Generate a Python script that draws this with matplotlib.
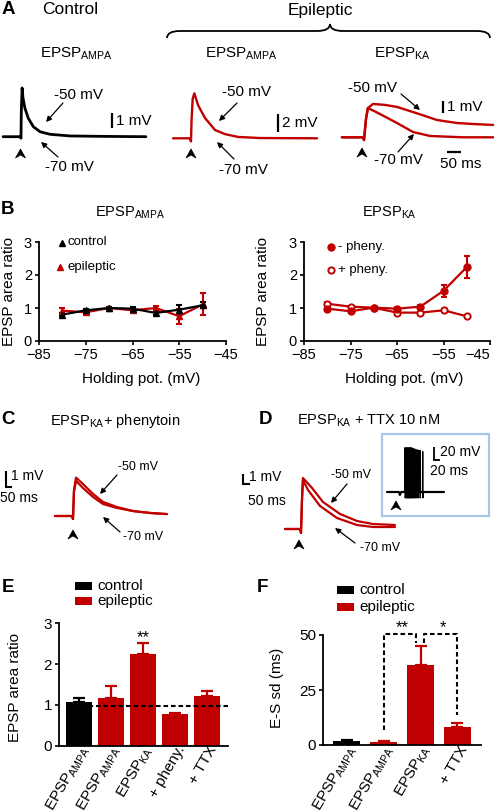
import matplotlib
matplotlib.use('Agg')
import matplotlib.pyplot as plt
import matplotlib.transforms as mtrans
from matplotlib.patches import Polygon, Rectangle, PathPatch
from matplotlib.path import Path
import numpy as np

plt.rcParams['font.family'] = ['Liberation Sans', 'DejaVu Sans']
plt.rcParams['mathtext.fontset'] = 'custom'
plt.rcParams['mathtext.rm'] = 'Liberation Sans'
plt.rcParams['mathtext.default'] = 'regular'

red = '#c00000'

# ---------------- data ----------------
# A: example traces, time in ms from the stimulus, voltage in mV from baseline
ctrl_t = [-64, -4, 0, 1, 4, 7, 14, 26, 44, 68, 104, 175, 300, 446]
ctrl_v = [0, 0, -0.1, 1.6, 3.25, 2.6, 1.9, 1.23, 0.67, 0.33, 0.16, 0.05, 0.02, 0]
epiA_t = [-64, -4, 0, 2, 6, 12, 25, 50, 86, 121, 168, 246, 450]
epiA_v = [0, 0, -0.35, 2.0, 4.4, 5.0, 3.7, 2.25, 0.92, 0.47, 0.15, 0.03, 0]
ka50_t = [-79, -4, 0, 7, 14, 32, 75, 118, 189, 261, 332, 396, 461]
ka50_v = [0, 0, -0.23, 1.44, 2.44, 2.78, 2.7, 2.53, 2.0, 1.44, 1.19, 1.1, 1.03]
ka70_t = [-79, -4, 0, 7, 14, 29, 57, 118, 175, 236, 354, 461]
ka70_v = [0, 0, -0.23, 1.6, 2.44, 2.27, 1.94, 1.19, 0.44, 0.11, 0, 0]

# B: holding potential vs EPSP area ratio
hold = [-80, -75, -70, -65, -60, -55, -50]
ctrl_b = [0.80, 0.93, 1.00, 0.98, 0.85, 0.95, 1.08]
ctrl_b_err = [0.04, 0.04, 0.02, 0.04, 0.05, 0.13, 0.09]
epi_b = [0.92, 0.87, 1.00, 0.93, 1.00, 0.75, 1.11]
epi_b_err = [0.08, 0.04, 0.02, 0.04, 0.07, 0.22, 0.33]
minus_b = [0.98, 0.90, 1.01, 0.98, 1.04, 1.52, 2.24]
minus_b_err = [0.04, 0.05, 0.02, 0.04, 0.04, 0.18, 0.33]
plus_b = [1.13, 1.04, 1.01, 0.86, 0.86, 0.93, 0.75]
plus_b_err = [0.05, 0.03, 0.02, 0.04, 0.03, 0.02, 0.02]
hold_ticks = [-85, -75, -65, -55, -45]

# C: EPSP_KA + phenytoin
c50_t = [-150, -8, 0, 8, 25, 83, 167, 250, 367, 500, 642, 783]
c50_v = [0, 0, -0.19, 1.6, 2.4, 2.0, 1.38, 0.88, 0.56, 0.31, 0.19, 0.12]
c70_t = [-150, -8, 0, 8, 25, 83, 167, 250, 367, 500, 642, 783]
c70_v = [0, 0, -0.19, 1.5, 2.2, 1.75, 1.19, 0.75, 0.5, 0.31, 0.19, 0.12]

# D: EPSP_KA + TTX
d50_t = [-114, -7, 0, 7, 14, 79, 157, 279, 400, 514, 671]
d50_v = [0, 0, -0.4, 2.9, 5.1, 4.1, 2.7, 1.5, 0.8, 0.5, 0.4]
d70_t = [-114, -7, 0, 7, 14, 50, 136, 257, 400, 514, 671]
d70_v = [0, 0, -0.4, 2.9, 4.9, 3.9, 2.3, 1.1, 0.4, 0.2, 0.2]
# D inset: superimposed sweeps with one spike each
ins_t = [-30, 10, 13, 17, 160]
ins_v = [0, 0, -4.6, 0, 0]
spike_t = [30, 32, 34, 36, 38, 40, 42, 44, 46, 48, 50, 52, 54, 57, 60, 63, 66, 70, 74, 80, 89]
spike_peak = [68, 68, 67, 68, 68, 67, 68, 68, 67, 68, 67, 68, 67, 67, 66, 66, 65, 65, 64, 64, 62]
spike_trough = -9

# E: bars
e_labels = [r'EPSP$_{AMPA}$', r'EPSP$_{AMPA}$', r'EPSP$_{KA}$', '+ pheny.', '+ TTX']
e_vals = [1.08, 1.16, 2.24, 0.78, 1.22]
e_err = [0.08, 0.30, 0.27, 0.03, 0.11]
e_group = ['control', 'epileptic', 'epileptic', 'epileptic', 'epileptic']

# F: bars
f_labels = [r'EPSP$_{AMPA}$', r'EPSP$_{AMPA}$', r'EPSP$_{KA}$', '+ TTX']
f_vals = [1.8, 1.3, 36.5, 8.1]
f_err = [0.4, 0.3, 8.6, 1.9]
f_group = ['control', 'epileptic', 'epileptic', 'epileptic']

group_color = {'control': 'black', 'epileptic': red}

# ---------------- figure ----------------
W, H = 496, 811
fig = plt.figure(figsize=(W / 100, H / 100), dpi=100)


def box(x0, y0, x1, y1):
    return [x0 / W, 1 - y1 / H, (x1 - x0) / W, (y1 - y0) / H]


def trace_axes(x0, y0, x1, y1, stim_x, base_y, px_ms, px_mv):
    ax = fig.add_axes(box(x0, y0, x1, y1))
    ax.set_xlim((x0 - stim_x) / px_ms, (x1 - stim_x) / px_ms)
    ax.set_ylim((base_y - y1) / px_mv, (base_y - y0) / px_mv)
    ax.axis('off')
    return ax


def trace(ax, t, v, c, lw=1.7):
    ax.plot(t, v, color=c, lw=lw, solid_joinstyle='round', solid_capstyle='round')


# A traces
ax = trace_axes(0, 80, 160, 172, 21, 136.7, 0.28, 15)
trace(ax, ctrl_t, ctrl_v, 'black', 2.0)
ax = trace_axes(165, 80, 330, 172, 191, 138.3, 0.28, 9)
trace(ax, epiA_t, epiA_v, red)
ax = trace_axes(335, 80, 496, 172, 364, 137.3, 0.28, 12)
trace(ax, ka50_t, ka50_v, red)
trace(ax, ka70_t, ka70_v, red)

# C traces
ax = trace_axes(40, 460, 180, 530, 73, 516, 0.12, 16)
trace(ax, c50_t, c50_v, red, 1.6)
trace(ax, c70_t, c70_v, red, 1.6)

# D traces
ax = trace_axes(280, 465, 400, 540, 301, 529, 0.14, 10)
trace(ax, d50_t, d50_v, red, 1.6)
trace(ax, d70_t, d70_v, red, 1.6)

# D inset
ax = trace_axes(384, 436, 487, 514, 396, 492, 0.3, 0.65)
trace(ax, ins_t, ins_v, 'black', 1.6)
for t, p in zip(spike_t, spike_peak):
    ax.plot([t - 0.8, t, t + 0.8, t + 2], [0, p, spike_trough, 0], color='black', lw=0.9)


# B panels
def style_axes(ax):
    for s in ['top', 'right']:
        ax.spines[s].set_visible(False)
    for s in ['left', 'bottom']:
        ax.spines[s].set_linewidth(1.3)
    ax.tick_params(direction='out', length=3, width=1.2, labelsize=10.5, pad=2)


axL = fig.add_axes(box(39, 242, 226, 341))
axL.errorbar(hold, epi_b, yerr=epi_b_err, color=red, marker='^', ms=5, lw=1.6,
             capsize=2.5, elinewidth=1.5, capthick=1.5)
axL.errorbar(hold, ctrl_b, yerr=ctrl_b_err, color='black', marker='^', ms=5, lw=1.6,
             capsize=2.5, elinewidth=1.5, capthick=1.5)
axL.set_xlim(-85, -45)
axL.set_ylim(0, 3)
axL.set_xticks(hold_ticks)
axL.set_yticks([0, 1, 2, 3])
style_axes(axL)

axR = fig.add_axes(box(304, 242, 490, 341))
axR.errorbar(hold, plus_b, yerr=plus_b_err, color=red, marker='o', ms=4.5, mfc='white',
             mew=1.4, lw=1.6, capsize=2.5, elinewidth=1.5, capthick=1.5)
axR.errorbar(hold, minus_b, yerr=minus_b_err, color=red, marker='o', ms=5, lw=1.6,
             capsize=2.5, elinewidth=1.5, capthick=1.5)
axR.set_xlim(-85, -45)
axR.set_ylim(0, 3)
axR.set_xticks(hold_ticks)
axR.set_yticks([0, 1, 2, 3])
style_axes(axR)
# last tick label kept inside the picture, as in the original
axR.get_xticklabels()[-1].set_horizontalalignment('right')


# E and F bar charts
def bar_axes(rect, labels, vals, errs, groups, xlim, ylim, yticks, cap, width):
    ax = fig.add_axes(rect)
    x = np.arange(len(vals))
    cols = [group_color[g] for g in groups]
    ax.bar(x, vals, width=width, color=cols, zorder=2)
    for i in range(len(vals)):
        ax.errorbar(x[i], vals[i], yerr=[[0], [errs[i]]], fmt='none', ecolor=cols[i],
                    capsize=cap, elinewidth=1.6, capthick=1.6, zorder=2)
    ax.set_xlim(*xlim)
    ax.set_ylim(*ylim)
    ax.set_yticks(yticks)
    style_axes(ax)
    ax.tick_params(axis='x', length=0, labelsize=11, pad=1)
    ax.tick_params(axis='y', labelsize=11)
    off = mtrans.ScaledTranslation(5 / 72, 0, fig.dpi_scale_trans)
    ax.set_xticks(x)
    ax.set_xticklabels(labels, rotation=60, ha='right', va='center', rotation_mode='anchor')
    for lab in ax.get_xticklabels():
        lab.set_transform(lab.get_transform() + off)
    return ax


axE = bar_axes(box(59, 623.3, 228, 745.7), e_labels, e_vals, e_err, e_group,
               (-0.625, 4.66), (0, 3), [0, 1, 2, 3], 4, 0.8)
axE.axhline(0.98, xmin=0.04, xmax=1, color='black', lw=1.5, ls=(0, (2.2, 1.4)), zorder=3)
axE.text(2, 2.55, '**', ha='center', va='baseline', fontsize=12)

axF = bar_axes(box(323.3, 635, 481, 745), f_labels, f_vals, f_err, f_group,
               (-0.635, 3.64), (0, 50), [0, 25, 50], 4, 0.74)
dash = (0, (2.2, 1.4))
axF.plot([1, 1, 1.88, 1.88], [6.8, 50.5, 50.5, 46.2], color='black', lw=1.5, ls=dash, clip_on=False)
axF.plot([2.1, 2.1, 3, 3], [46.2, 50.5, 50.5, 13.6], color='black', lw=1.5, ls=dash, clip_on=False)
axF.text(1.5, 51.5, '**', ha='center', va='baseline', fontsize=12, clip_on=False)
axF.text(2.6, 51.5, '*', ha='center', va='baseline', fontsize=12, clip_on=False)

# ---------------- overlay (text, arrows, scale bars) in pixels ----------------
ov = fig.add_axes([0, 0, 1, 1], zorder=10)
ov.set_xlim(0, W)
ov.set_ylim(H, 0)
ov.axis('off')


def txt(x, y, s, size=10.5, ha='center', va='center', **kw):
    ov.text(x, y, s, fontsize=size, ha=ha, va=va, **kw)


def arrow(x1, y1, x2, y2):
    ov.annotate('', xy=(x2, y2), xytext=(x1, y1),
                arrowprops=dict(arrowstyle='-|>', color='black', lw=0.9,
                                mutation_scale=8, shrinkA=0, shrinkB=0))


def stim(x, y):
    ov.add_patch(Polygon([(x, y), (x + 5, y + 9), (x, y + 6), (x - 5, y + 9)],
                         closed=True, fc='black', ec='black', lw=0.5))


def bar(x1, y1, x2, y2, lw=1.6):
    ov.plot([x1, x2], [y1, y2], color='black', lw=lw, solid_capstyle='butt')


# panel letters
for s, x, y in [('A', 8, 9), ('B', 8, 210), ('C', 8, 420), ('D', 265, 420), ('E', 8, 587), ('F', 262, 587)]:
    txt(x, y, s, 13.5, weight='bold')

# A
txt(70, 9, 'Control', 12.5)
txt(320, 10, 'Epileptic', 12.5)
brace = Path([(167, 38), (167, 31), (180, 31), (317, 31), (330, 31), (330, 24),
              (330, 31), (343, 31), (477, 31), (490, 31), (490, 38)],
             [Path.MOVETO, Path.CURVE3, Path.CURVE3, Path.LINETO, Path.CURVE3, Path.CURVE3,
              Path.CURVE3, Path.CURVE3, Path.LINETO, Path.CURVE3, Path.CURVE3])
ov.add_patch(PathPatch(brace, fc='none', ec='black', lw=1.3))
txt(77, 58, r'EPSP$_{AMPA}$', 11, va='baseline')
txt(242, 58, r'EPSP$_{AMPA}$', 11, va='baseline')
txt(403, 58, r'EPSP$_{KA}$', 11, va='baseline')

txt(78, 95, '-50 mV', 11)
arrow(63, 103, 46, 122)
txt(69, 167, '-70 mV', 11)
arrow(58, 157, 41, 142)
bar(112, 113, 112, 128)
txt(116, 121, '1 mV', 11, ha='left')
stim(20.5, 149)

txt(246, 92, '-50 mV', 11)
arrow(237, 103, 219, 121)
txt(243, 170, '-70 mV', 11)
arrow(234, 159, 217, 142)
bar(278, 114, 278, 132)
txt(282, 123, '2 mV', 11, ha='left')
stim(191, 149)

txt(372, 88, '-50 mV', 11)
arrow(401, 94, 420, 110)
txt(398, 160, '-70 mV', 11)
arrow(398, 152, 414, 134)
bar(443, 101, 443, 113)
txt(447, 107, '1 mV', 11, ha='left')
bar(447, 152, 461, 152)
txt(461, 164, '50 ms', 11)
stim(362, 148)

# B
txt(130, 217, r'EPSP$_{AMPA}$', 10.5, va='baseline')
txt(389, 217, r'EPSP$_{KA}$', 10.5, va='baseline')
txt(9, 291, 'EPSP area ratio', 11, rotation=90)
txt(263, 291, 'EPSP area ratio', 11, rotation=90)
txt(141, 379, 'Holding pot. (mV)', 11)
txt(404, 379, 'Holding pot. (mV)', 11)
ov.plot([61.5], [242.5], marker='^', ms=5, color='black')
txt(68, 242, 'control', 9.5, ha='left')
ov.plot([59.5], [266.5], marker='^', ms=5, color=red)
txt(67, 267, 'epileptic', 9.5, ha='left')
ov.plot([331], [247], marker='o', ms=5, color=red)
txt(338, 247, '- pheny.', 9.5, ha='left')
ov.plot([331], [269.5], marker='o', ms=4.5, mfc='white', mec=red, mew=1.4)
txt(338, 270, '+ pheny.', 9.5, ha='left')

# C
txt(50, 425, r'EPSP$_{KA}$+ phenytoin', 10.5, ha='left', va='baseline')
bar(6, 471, 6, 487, 1.5)
bar(5.3, 487, 12, 487, 1.5)
txt(11, 476, '1 mV', 10, ha='left')
txt(0, 498, '50 ms', 10, ha='left')
txt(138, 467, '-50 mV', 9)
arrow(117, 475, 100, 494)
txt(143, 537, '-70 mV', 9)
arrow(120, 532, 103, 517)
stim(73, 530)

# D
txt(297, 425, r'EPSP$_{KA}$ + TTX 10 nM', 10.5, ha='left', va='baseline')
bar(243, 474, 243, 484, 1.5)
bar(242.3, 484, 250, 484, 1.5)
txt(249, 477, '1 mV', 10, ha='left')
txt(248, 501, '50 ms', 10, ha='left')
txt(351, 475, '-50 mV', 9)
arrow(347, 484, 331, 503)
txt(380, 548, '-70 mV', 9)
arrow(355, 543, 335, 528)
stim(299, 540)
ov.add_patch(Rectangle((382, 434), 107, 82, fc='none', ec='#a9c4e6', lw=1.6))
bar(434, 447, 434, 460, 1.3)
bar(433.4, 460, 440, 460, 1.3)
txt(440, 452, '20 mV', 10, ha='left')
txt(430, 471, '20 ms', 10, ha='left')
stim(396, 501)

# E / F legends and axis labels
for x0, y0, g in [(75, 582, 'control'), (75, 597, 'epileptic'), (337, 586, 'control'), (337, 603, 'epileptic')]:
    ov.add_patch(Rectangle((x0, y0), 17, 8, fc=group_color[g], ec='none'))
    txt(x0 + 22, y0 + 4, g, 11, ha='left')
txt(15, 688, 'EPSP area ratio', 11, rotation=90)
txt(277, 688, 'E-S sd (ms)', 11, rotation=90)

fig.savefig('out.png', dpi=100)
